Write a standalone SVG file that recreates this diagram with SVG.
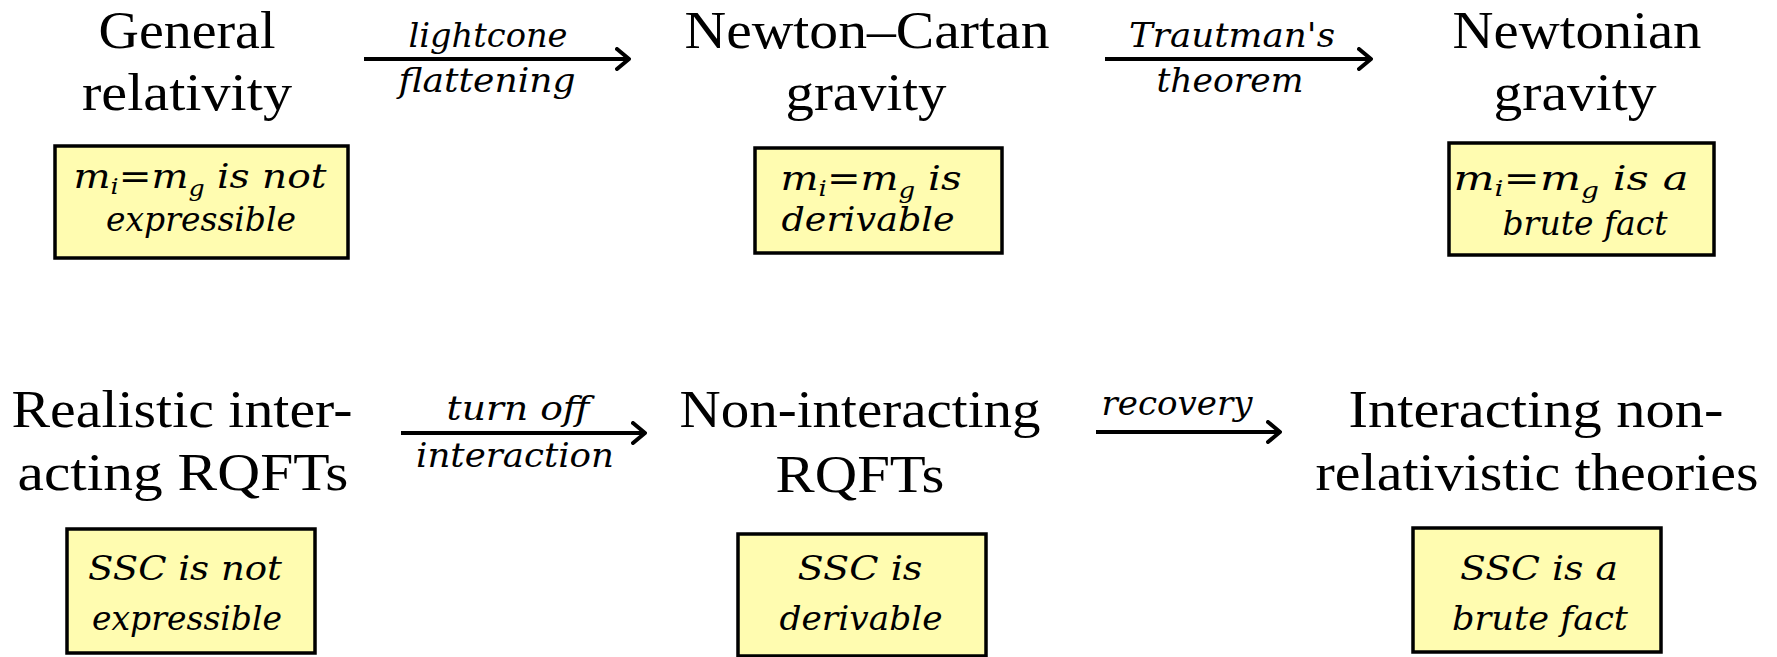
<svg xmlns="http://www.w3.org/2000/svg" width="1777" height="657" viewBox="0 0 1777 657">
  <style>
    text { font-family: "Liberation Serif", "Times New Roman", serif; fill: #000; text-anchor: middle; }
    .title { font-size: 53px; }
    .lbl { font-family: "DejaVu Serif", serif; font-size: 34px; font-style: italic; }
    .btxt { font-family: "DejaVu Serif", serif; font-size: 34px; font-style: italic; }
    .box { fill: #fffcb0; stroke: #000; stroke-width: 3.5; }
    .sub { font-size: 22px; }
    .up { font-style: normal; }
    .edge { fill: none; stroke: #000; stroke-width: 4; }
  </style>
  <defs>
    <marker id="head" viewBox="0 0 16 24" refX="14" refY="12" markerWidth="16" markerHeight="24" markerUnits="userSpaceOnUse" orient="auto">
      <path d="M2,2 L14,12 L2,22" fill="none" stroke="#000" stroke-width="4" stroke-linecap="round" stroke-linejoin="round"/>
    </marker>
  </defs>
  <rect width="1777" height="657" fill="#fff"/>

  <!-- connectors -->
  <g id="connectors">
    <path class="edge" d="M364,59 H629" marker-end="url(#head)"/>
    <text class="lbl" x="488" y="47" textLength="159" lengthAdjust="spacingAndGlyphs">lightcone</text>
    <text class="lbl" x="487" y="92" textLength="177" lengthAdjust="spacingAndGlyphs">flattening</text>

    <path class="edge" d="M1105,59 H1371" marker-end="url(#head)"/>
    <text class="lbl" x="1232" y="47" textLength="206" lengthAdjust="spacingAndGlyphs">Trautman's</text>
    <text class="lbl" x="1230" y="92" textLength="147" lengthAdjust="spacingAndGlyphs">theorem</text>

    <path class="edge" d="M401,433 H645" marker-end="url(#head)"/>
    <text class="lbl" x="518" y="420" textLength="143" lengthAdjust="spacingAndGlyphs">turn off</text>
    <text class="lbl" x="515" y="467" textLength="198" lengthAdjust="spacingAndGlyphs">interaction</text>

    <path class="edge" d="M1096,432 H1280" marker-end="url(#head)"/>
    <text class="lbl" x="1177" y="415" textLength="151" lengthAdjust="spacingAndGlyphs">recovery</text>
  </g>

  <!-- top row: gravity theories -->
  <g id="general-relativity">
    <text class="title" x="187" y="48" textLength="177" lengthAdjust="spacingAndGlyphs">General</text>
    <text class="title" x="187" y="110" textLength="210" lengthAdjust="spacingAndGlyphs">relativity</text>
    <rect class="box" x="55" y="146" width="293" height="112"/>
    <text class="btxt" x="200" y="188" textLength="253" lengthAdjust="spacingAndGlyphs">m<tspan class="sub" dy="6">i</tspan><tspan class="up" dy="-6">=</tspan>m<tspan class="sub" dy="8">g</tspan><tspan dy="-8"> is not</tspan></text>
    <text class="btxt" x="201" y="231" textLength="190" lengthAdjust="spacingAndGlyphs">expressible</text>
  </g>

  <g id="newton-cartan">
    <text class="title" x="867" y="48" textLength="365" lengthAdjust="spacingAndGlyphs">Newton–Cartan</text>
    <text class="title" x="866" y="110" textLength="161" lengthAdjust="spacingAndGlyphs">gravity</text>
    <rect class="box" x="755" y="148" width="247" height="105"/>
    <text class="btxt" x="871" y="190" textLength="181" lengthAdjust="spacingAndGlyphs">m<tspan class="sub" dy="6">i</tspan><tspan class="up" dy="-6">=</tspan>m<tspan class="sub" dy="8">g</tspan><tspan dy="-8"> is</tspan></text>
    <text class="btxt" x="868" y="231" textLength="173" lengthAdjust="spacingAndGlyphs">derivable</text>
  </g>

  <g id="newtonian">
    <text class="title" x="1577" y="48" textLength="249" lengthAdjust="spacingAndGlyphs">Newtonian</text>
    <text class="title" x="1575" y="110" textLength="163" lengthAdjust="spacingAndGlyphs">gravity</text>
    <rect class="box" x="1449" y="143" width="265" height="112"/>
    <text class="btxt" x="1571" y="190" textLength="235" lengthAdjust="spacingAndGlyphs">m<tspan class="sub" dy="6">i</tspan><tspan class="up" dy="-6">=</tspan>m<tspan class="sub" dy="8">g</tspan><tspan dy="-8"> is a</tspan></text>
    <text class="btxt" x="1585" y="235" textLength="165" lengthAdjust="spacingAndGlyphs">brute fact</text>
  </g>

  <!-- bottom row: quantum field theories -->
  <g id="interacting-rqft">
    <text class="title" x="182" y="427" textLength="341" lengthAdjust="spacingAndGlyphs">Realistic inter-</text>
    <text class="title" x="183" y="490" textLength="331" lengthAdjust="spacingAndGlyphs">acting RQFTs</text>
    <rect class="box" x="67" y="529" width="248" height="124"/>
    <text class="btxt" x="185" y="580" textLength="194" lengthAdjust="spacingAndGlyphs">SSC is not</text>
    <text class="btxt" x="187" y="630" textLength="190" lengthAdjust="spacingAndGlyphs">expressible</text>
  </g>

  <g id="free-rqft">
    <text class="title" x="860" y="427" textLength="361" lengthAdjust="spacingAndGlyphs">Non-interacting</text>
    <text class="title" x="860" y="492" textLength="169" lengthAdjust="spacingAndGlyphs">RQFTs</text>
    <rect class="box" x="738" y="534" width="248" height="122"/>
    <text class="btxt" x="860" y="580" textLength="125" lengthAdjust="spacingAndGlyphs">SSC is</text>
    <text class="btxt" x="861" y="630" textLength="163" lengthAdjust="spacingAndGlyphs">derivable</text>
  </g>

  <g id="nonrelativistic">
    <text class="title" x="1536" y="427" textLength="375" lengthAdjust="spacingAndGlyphs">Interacting non-</text>
    <text class="title" x="1537" y="490" textLength="443" lengthAdjust="spacingAndGlyphs">relativistic theories</text>
    <rect class="box" x="1413" y="528" width="248" height="124"/>
    <text class="btxt" x="1539" y="580" textLength="158" lengthAdjust="spacingAndGlyphs">SSC is a</text>
    <text class="btxt" x="1540" y="630" textLength="176" lengthAdjust="spacingAndGlyphs">brute fact</text>
  </g>
</svg>
